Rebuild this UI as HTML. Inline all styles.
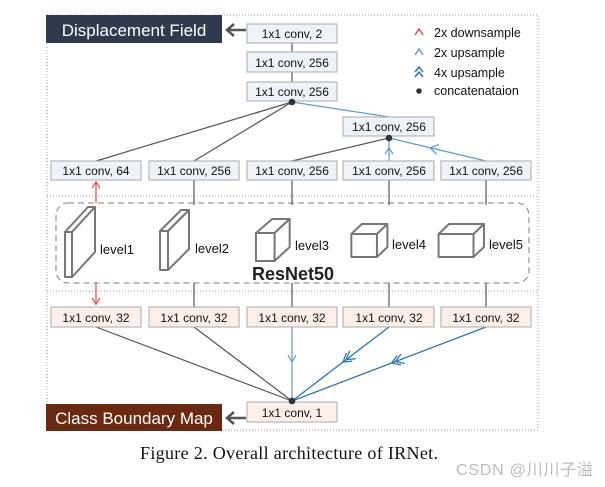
<!DOCTYPE html>
<html><head><style>body{margin:0;background:#fff}svg{display:block}</style></head><body>
<svg width="605" height="487" viewBox="0 0 605 487" xmlns="http://www.w3.org/2000/svg" font-family="Liberation Sans, sans-serif">
<g stroke="#999" stroke-dasharray="1,2" fill="none" stroke-width="1">
<rect x="47" y="15" width="491" height="415"/>
<line x1="47" y1="196" x2="538" y2="196"/>
<line x1="47" y1="291" x2="538" y2="291"/>
</g>
<rect x="56" y="203" width="473" height="80" rx="12" fill="#fff" stroke="#999" stroke-dasharray="6,4" stroke-width="1.3"/>
<g stroke="#555" stroke-width="1.2" fill="none">
<line x1="292" y1="43" x2="292" y2="52"/>
<line x1="292" y1="72" x2="292" y2="82"/>
<line x1="292" y1="102" x2="96" y2="161"/>
<line x1="292" y1="102" x2="194" y2="161"/>
<line x1="389" y1="138" x2="292" y2="161"/>
<line x1="194" y1="180" x2="194" y2="205"/>
<line x1="292" y1="180" x2="292" y2="205"/>
<line x1="389" y1="180" x2="389" y2="205"/>
<line x1="486" y1="180" x2="486" y2="205"/>
<line x1="194" y1="283" x2="194" y2="307"/>
<line x1="292" y1="283" x2="292" y2="307"/>
<line x1="389" y1="283" x2="389" y2="307"/>
<line x1="486" y1="283" x2="486" y2="307"/>
<line x1="96" y1="327" x2="292" y2="401"/>
<line x1="194" y1="327" x2="292" y2="401"/>
</g>
<g stroke="#5b9bd5" stroke-width="1.2" fill="none">
<line x1="292" y1="102" x2="389" y2="117"/>
<line x1="389" y1="161" x2="389" y2="138"/>
<path d="M385,154 L389,148 L393,154"/>
<line x1="486" y1="161" x2="389" y2="138"/>
<path d="M436.6,154.4 L430,147.7 L439,144.6"/>
<line x1="292" y1="327" x2="292" y2="401"/>
<path d="M288,355 L292,362 L296,355"/>
</g>
<g stroke="#2e75b6" stroke-width="1.3" fill="none">
<line x1="389" y1="327" x2="292" y2="401"/>
<line x1="486" y1="327" x2="292" y2="401"/>
<path d="M352.4,361.1 L343,362 L346.4,353.1 M355.6,358.7 L346.2,359.6 L349.6,350.7"/>
<path d="M400.9,364.9 L391.6,363 L397.3,355.5 M404.6,363.5 L395.3,361.6 L401,354.1"/>
</g>
<g stroke="#f04a4a" stroke-width="1.2" fill="none">
<line x1="96" y1="181" x2="96" y2="203"/>
<path d="M92,188 L96,182 L100,188"/>
<line x1="96" y1="283" x2="96" y2="305"/>
<path d="M92,298 L96,304 L100,298"/>
</g>
<rect x="46" y="15" width="176" height="28" fill="#2f3a4d"/>
<text x="134" y="36" fill="#fff" font-size="17" text-anchor="middle">Displacement Field</text>
<rect x="46" y="404" width="176" height="27" fill="#6b2a10"/>
<text x="134" y="424" fill="#fff" font-size="17" text-anchor="middle">Class Boundary Map</text>
<g stroke="#555" stroke-width="2.5" fill="none">
<line x1="246" y1="30" x2="227" y2="30"/><path d="M234,24 L227,30 L234,36"/>
<line x1="246" y1="418" x2="227" y2="418"/><path d="M234,412 L227,418 L234,424"/>
</g>
<g font-size="12" text-anchor="middle" fill="#111">
<g fill="#eef3fa" stroke="#aaa">
<rect x="247" y="24" width="90" height="19"/><rect x="247" y="52" width="90" height="20"/><rect x="247" y="82" width="90" height="19"/>
<rect x="343" y="117" width="91" height="19"/>
<rect x="51" y="161" width="90" height="19"/><rect x="149" y="161" width="90" height="19"/><rect x="247" y="161" width="90" height="19"/><rect x="343" y="161" width="91" height="19"/><rect x="441" y="161" width="90" height="19"/>
</g>
<g fill="#fcefe9" stroke="#aaa">
<rect x="51" y="307" width="90" height="20"/><rect x="149" y="307" width="90" height="20"/><rect x="247" y="307" width="90" height="20"/><rect x="343" y="307" width="91" height="20"/><rect x="441" y="307" width="90" height="20"/>
<rect x="247" y="402" width="90" height="20"/>
</g>
<text x="292" y="38">1x1 conv, 2</text><text x="292" y="67">1x1 conv, 256</text><text x="292" y="96">1x1 conv, 256</text>
<text x="389" y="131">1x1 conv, 256</text>
<text x="96" y="175">1x1 conv, 64</text><text x="194" y="175">1x1 conv, 256</text><text x="292" y="175">1x1 conv, 256</text><text x="389" y="175">1x1 conv, 256</text><text x="486" y="175">1x1 conv, 256</text>
<text x="96" y="322">1x1 conv, 32</text><text x="194" y="322">1x1 conv, 32</text><text x="292" y="322">1x1 conv, 32</text><text x="389" y="322">1x1 conv, 32</text><text x="486" y="322">1x1 conv, 32</text>
<text x="292" y="417">1x1 conv, 1</text>
</g>
<circle cx="292" cy="102" r="3.3" fill="#333"/>
<circle cx="389" cy="138" r="3.3" fill="#333"/>
<circle cx="292" cy="401" r="3.3" fill="#333"/>
<g fill="#fff" stroke="#777" stroke-width="2" stroke-linejoin="round">
<path d="M65,232 L88,207 L95,207 L72,232 Z"/><path d="M72,232 L95,207 L95,252 L72,277 Z"/><rect x="65" y="232" width="7" height="45"/>
<path d="M160,231 L181,210 L189,210 L168,231 Z"/><path d="M168,231 L189,210 L189,249 L168,270 Z"/><rect x="160" y="231" width="8" height="39"/>
</g>
<g transform="scale(1.1634,1)" fill="#fff" stroke="#777" stroke-width="2" stroke-linejoin="round">
<path vector-effect="non-scaling-stroke" d="M220,233 L234,219 L249,219 L236,233 Z"/><path vector-effect="non-scaling-stroke" d="M236,233 L249,219 L249,247 L236,261 Z"/><rect vector-effect="non-scaling-stroke" x="220" y="233" width="16" height="28"/>
<path vector-effect="non-scaling-stroke" d="M302,234 L311,224 L333,224 L324,234 Z"/><path vector-effect="non-scaling-stroke" d="M324,234 L333,224 L333,247 L324,257 Z"/><rect vector-effect="non-scaling-stroke" x="302" y="234" width="22" height="23"/>
<path vector-effect="non-scaling-stroke" d="M377,234 L386,224 L416,224 L407,234 Z"/><path vector-effect="non-scaling-stroke" d="M407,234 L416,224 L416,247 L407,257 Z"/><rect vector-effect="non-scaling-stroke" x="377" y="234" width="30" height="23"/>
</g>
<g font-size="13" fill="#111">
<text x="100" y="254">level1</text><text x="195" y="253">level2</text><text x="295" y="250">level3</text><text x="392" y="249">level4</text><text x="489" y="249">level5</text>
</g>
<text x="293" y="280" font-size="18" font-weight="bold" text-anchor="middle" fill="#222">ResNet50</text>
<g fill="none" stroke-width="1.5">
<path d="M415,35 L419,29 L423,35" stroke="#f04a4a"/>
<path d="M415,55 L419,49 L423,55" stroke="#5b9bd5"/>
<path d="M415,72 L419,67 L423,72 M415,77 L419,72 L423,77" stroke="#2e75b6"/>
</g>
<circle cx="419" cy="91" r="2.8" fill="#333"/>
<g font-size="12.5" fill="#111">
<text x="434" y="37">2x downsample</text><text x="434" y="57">2x upsample</text><text x="434" y="77">4x upsample</text><text x="434" y="95">concatenataion</text>
</g>
<text x="140" y="459" font-family="Liberation Serif, serif" font-size="18" textLength="298" fill="#111">Figure 2.  Overall architecture of IRNet.</text>
<text x="456" y="475" font-family="Liberation Sans, 'Noto Sans CJK SC', sans-serif" font-size="16" textLength="137" fill="#bbb">CSDN @川川子溢</text>
</svg>
</body></html>
